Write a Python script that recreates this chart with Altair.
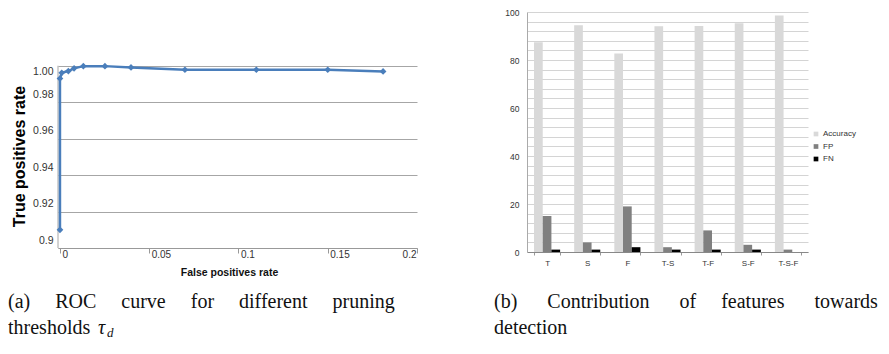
import altair as alt
import pandas as pd

# ---------------- data ----------------
# (a) ROC curve
fpr = [0.0, 0.0, 0.001, 0.0047, 0.0079, 0.0131, 0.0252, 0.0398, 0.070, 0.110, 0.150, 0.181]
tpr = [0.910, 0.9930, 0.9961, 0.9971, 0.9986, 0.9998, 0.9998, 0.9991, 0.9978, 0.9978, 0.9978, 0.9969]
roc_y_ticks = [0.9, 0.92, 0.94, 0.96, 0.98, 1.0]
roc_x_ticks = [0, 0.05, 0.1, 0.15, 0.2]

# (b) feature contribution
features = ["T", "S", "F", "T-S", "T-F", "S-F", "T-S-F"]
accuracy = [87.4, 94.5, 82.7, 94.1, 94.2, 95.3, 98.5]
fp = [15, 4, 19, 2, 9, 3, 1]
fn = [1, 1, 2, 1, 1, 1, 0]
series = ["Accuracy", "FP", "FN"]
series_colors = ["#d9d9d9", "#808080", "#000000"]
bar_y_ticks = list(range(0, 101, 4))

# captions (non-breaking spaces imitate the justified LaTeX caption)
N = "\u00a0"
caption_a1 = "(a)" + N * 5 + "ROC" + N * 5 + "curve" + N * 5 + "for" + N * 5 + "different" + N * 5 + "pruning"
caption_a2 = "thresholds"
caption_b1 = "(b)" + N * 6 + "Contribution" + N * 6 + "of" + N * 5 + "features" + N * 6 + "towards"
caption_b2 = "detection"
tau = "\u03c4"
sub_d = "d"

SERIF = "Liberation Serif"
SANS = "Liberation Sans"
CAP_SIZE = 20


def text_line(txt, x, y, size=CAP_SIZE, style="normal"):
    return alt.Chart(pd.DataFrame({"t": [txt]})).mark_text(
        align="left", baseline="alphabetic", font=SERIF, fontSize=size,
        fontStyle=style, color="#111"
    ).encode(text="t:N", x=alt.value(x), y=alt.value(y))


# ---------------- left chart ----------------
roc_df = pd.DataFrame({"fpr": fpr, "tpr": tpr, "i": list(range(len(fpr)))})

LW, LH = 359, 236
xs = alt.Scale(domain=[-0.0011, 0.2], nice=False)
ys = alt.Scale(domain=[0.9, 1.0295], nice=False, zero=False)

y_axis = alt.Axis(values=roc_y_ticks, title="True positives rate",
                  titleFont=SANS, titleFontSize=16, titleFontWeight="bold",
                  titleColor="#000", titlePadding=5, titleY=LH - 92,
                  labelFont=SANS, labelFontSize=10.5, labelColor="#333",
                  labelExpr="datum.value < 0.91 ? '0.9' : format(datum.value, '.2f')",
                  labelOffset=alt.ExprRef(expr="datum.value > 0.99 ? 6 : -8"),
                  ticks=False, labelPadding=5, domain=False,
                  grid=True, gridColor="#a6a6a6", gridWidth=1,
                  labelOverlap=False)

base = alt.Chart(roc_df)
roc_line = base.mark_line(color="#4a7ebb", strokeWidth=2.5).encode(
    x=alt.X("fpr:Q", scale=xs,
            axis=alt.Axis(values=roc_x_ticks, title="False positives rate",
                          titleFont=SANS, titleFontSize=10.5, titleFontWeight="bold",
                          titleColor="#111", titlePadding=8, titleX=171,
                          labelFont=SANS, labelFontSize=10, labelColor="#333",
                          labelExpr="'' + datum.value",
                          labelAlign=alt.ExprRef(expr="datum.value > 0.19 ? 'right' : 'left'"),
                          labelOffset=alt.ExprRef(expr="datum.value > 0.19 ? -1 : 2"),
                          labelBaseline="top", labelPadding=-4, tickSize=5,
                          tickColor="#999", domainColor="#999", grid=False,
                          labelFlush=False, labelOverlap=False)),
    y=alt.Y("tpr:Q", scale=ys, axis=y_axis),
    order="i:Q",
)
roc_pts = base.mark_point(shape="diamond", filled=True, size=45, color="#4a7ebb", opacity=1).encode(
    x=alt.X("fpr:Q", scale=xs), y=alt.Y("tpr:Q", scale=ys, axis=y_axis)
)
y_axis_line = alt.Chart(pd.DataFrame({"tpr": [roc_y_ticks[0]], "tpr2": [roc_y_ticks[-1]]})).mark_rule(
    color="#a6a6a6", strokeWidth=1
).encode(x=alt.value(0), y=alt.Y("tpr:Q", scale=ys, axis=y_axis), y2="tpr2:Q")

left = alt.layer(
    y_axis_line, roc_line, roc_pts,
    text_line(caption_a1, -50, 296),
    text_line(caption_a2, -50, 322),
    text_line(tau, 40, 322, style="italic"),
    text_line(sub_d, 49, 325, size=13, style="italic"),
).properties(width=LW, height=LH)

# ---------------- right chart ----------------
rows = []
for i, f in enumerate(features):
    for s, v in zip(series, [accuracy[i], fp[i], fn[i]]):
        rows.append({"feature": f, "series": s, "value": v})
bar_df = pd.DataFrame(rows)

RW, RH = 281, 240
bars = alt.Chart(bar_df).mark_bar().encode(
    x=alt.X("feature:N", sort=features,
            scale=alt.Scale(paddingInner=0.35, paddingOuter=0.175),
            axis=alt.Axis(title=None, labelAngle=0, labelFont=SANS, labelFontSize=8,
                          labelColor="#333", tickBand="extent", tickSize=3,
                          tickColor="#999", domainColor="#888", labelPadding=4)),
    xOffset=alt.XOffset("series:N", sort=series, scale=alt.Scale(paddingInner=0, paddingOuter=0)),
    y=alt.Y("value:Q", scale=alt.Scale(domain=[0, 100], nice=False),
            axis=alt.Axis(values=bar_y_ticks, title=None,
                          labelExpr="datum.value % 20 == 0 ? datum.label : ''",
                          labelFont=SANS, labelFontSize=8.5, labelColor="#333",
                          ticks=False, labelPadding=8, domainColor="#aaa",
                          gridColor="#d4d4d4", gridWidth=1, labelOverlap=False)),
    color=alt.Color("series:N", sort=series,
                    scale=alt.Scale(domain=series, range=series_colors),
                    legend=alt.Legend(title=None, orient="none", legendX=754, legendY=118,
                                      symbolType="square", symbolSize=22, symbolStrokeWidth=0,
                                      labelFont=SANS, labelFontSize=8, labelColor="#333",
                                      rowPadding=4.5, labelOffset=3, padding=0)),
)

right = alt.layer(
    bars,
    text_line(caption_b1, -33, 296),
    text_line(caption_b2, -33, 322),
).properties(width=RW, height=RH)

chart = alt.hconcat(left, right, spacing=76).properties(padding=0).configure_view(stroke=None)

chart.save("out.html", embed_options={"renderer": "svg", "actions": False})
